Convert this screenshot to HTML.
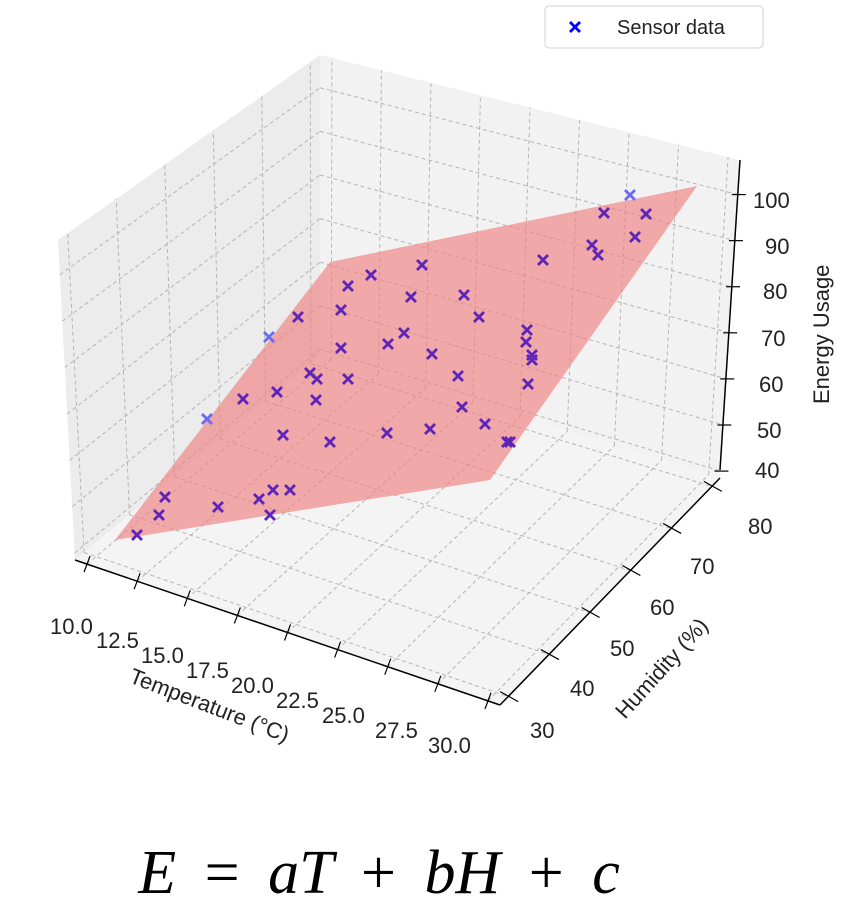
<!DOCTYPE html>
<html><head><meta charset="utf-8"><style>
body{margin:0;background:#fff;width:856px;height:917px;overflow:hidden;font-family:"Liberation Sans","DejaVu Sans",sans-serif}
svg{position:absolute;left:0;top:0}
</style></head><body>
<svg id="s" width="856" height="917" viewBox="0 0 856 917">
<polygon points="75,560 58,240 320,55 320,356" fill="#ececec"/>
<polygon points="320,356 320,55 740,160 720,478" fill="#f2f2f2"/>
<polygon points="75,560 500,705 720,478 320,356" fill="#f4f4f4"/>
<g id="grid" stroke="#b5b5b5" stroke-width="1" stroke-dasharray="4,3" fill="none"></g>
<polygon points="115,540 330,262 697,186 490,480" fill="#f08080" fill-opacity="0.65"/>
<g id="pts" stroke-width="2.8" stroke-linecap="butt"></g>
<g stroke="#000" stroke-width="1.5" fill="none">
<polyline points="75,560 500,705"/>
<polyline points="500,705 720,478"/>
<polyline points="720,470 740,160"/>
</g>
<g id="ticks" stroke="#000" stroke-width="1.2"></g>
<g font-size="22" fill="#222">
<text x="50" y="634">10.0</text>
<text x="96" y="648">12.5</text>
<text x="141" y="663">15.0</text>
<text x="186" y="678">17.5</text>
<text x="231" y="693">20.0</text>
<text x="276" y="708">22.5</text>
<text x="322" y="723">25.0</text>
<text x="375" y="738">27.5</text>
<text x="428" y="753">30.0</text>
<text x="748" y="534">80</text>
<text x="690" y="574">70</text>
<text x="650" y="615">60</text>
<text x="610" y="656">50</text>
<text x="570" y="696">40</text>
<text x="530" y="738">30</text>
<text x="753" y="208">100</text>
<text x="765" y="254">90</text>
<text x="763" y="299">80</text>
<text x="761" y="346">70</text>
<text x="759" y="392">60</text>
<text x="757" y="438">50</text>
<text x="755" y="478">40</text>
<text transform="translate(128,682) rotate(21)">Temperature (°C)</text>
<text transform="translate(625,720) rotate(-48)">Humidity (%)</text>
<text transform="translate(829,404) rotate(-90)">Energy Usage</text>
</g>
<rect x="545" y="6" width="218" height="42" rx="4" fill="#fff" stroke="#d0d0d0"/>
<g stroke="#0000ff" stroke-width="2.8"><line x1="570" y1="22" x2="580" y2="32"/><line x1="580" y1="22" x2="570" y2="32"/></g>
<text x="617" y="34" font-size="20" fill="#222">Sensor data</text>
<text x="379" y="893" text-anchor="middle" font-family="'Liberation Serif',serif" font-style="italic" font-size="62" word-spacing="13" fill="#000">E <tspan font-style="normal">=</tspan> aT <tspan font-style="normal">+</tspan> bH <tspan font-style="normal">+</tspan> c</text>
</svg>
<script>
var NS="http://www.w3.org/2000/svg";
function L(g,a,b){var l=document.createElementNS(NS,"line");l.setAttribute("x1",a[0]);l.setAttribute("y1",a[1]);l.setAttribute("x2",b[0]);l.setAttribute("y2",b[1]);g.appendChild(l);}
var F00=[75,560],F10=[500,705],F11=[720,478],F01=[320,356],T00=[58,240],T01=[320,55],T11=[740,160],T10=[478,345];
function lerp(a,b,t){return [a[0]+(b[0]-a[0])*t,a[1]+(b[1]-a[1])*t];}
function P(u,v,w){var f=lerp(lerp(F00,F10,u),lerp(F01,F11,u),v);var t=lerp(lerp(T00,T10,u),lerp(T01,T11,u),v);return lerp(f,t,w);}
var g=document.getElementById("grid");
var xs=[],ys=[],zs=[];
for(var i=0;i<9;i++)xs.push((10+2.5*i-9.4)/21.2);
for(var i=0;i<6;i++)ys.push((30+10*i-28)/54);
for(var i=0;i<7;i++)zs.push((40+10*i-38.5)/69);
xs.forEach(function(u){L(g,P(u,0,0),P(u,1,0));L(g,P(u,1,0),P(u,1,1));});
ys.forEach(function(v){L(g,P(0,v,0),P(1,v,0));L(g,P(0,v,0),P(0,v,1));});
zs.forEach(function(w){L(g,P(0,0,w),P(0,1,w));L(g,P(0,1,w),P(1,1,w));});
var tk=document.getElementById("ticks");
xs.forEach(function(u){var p=P(u,0,0);L(tk,[p[0]+3,p[1]-8],[p[0]-3,p[1]+8]);});
ys.forEach(function(v){var p=P(1,v,0);L(tk,[p[0]-8,p[1]-5],[p[0]+10,p[1]+5]);});
zs.forEach(function(w){var p=P(1,1,w);L(tk,[p[0]-6,p[1]],[p[0]+8,p[1]]);});
var pts=[[630,195,1],[604,213],[646,214],[635,237],[592,245],[598,255],[543,260],[422,265],[371,275],[348,286],[411,297],[464,295],[341,310],[298,317],[479,317],[269,337,1],[404,333],[388,344],[527,330],[526,342],[532,355],[532,360],[341,348],[432,354],[310,373],[317,379],[348,379],[458,376],[528,384],[243,399],[277,392],[316,400],[462,407],[207,419,1],[485,424],[283,435],[330,442],[387,433],[430,429],[510,442],[507,442],[165,497],[159,515],[218,507],[259,499],[273,490],[290,490],[270,515],[137,535]];
var pg=document.getElementById("pts");
pts.forEach(function(p){var c=p[2]?"#6b6bf2":"#5f24b8";var e=document.createElementNS(NS,"g");e.setAttribute("stroke",c);pg.appendChild(e);L(e,[p[0]-5,p[1]-5],[p[0]+5,p[1]+5]);L(e,[p[0]+5,p[1]-5],[p[0]-5,p[1]+5]);});
</script>
</body></html>
